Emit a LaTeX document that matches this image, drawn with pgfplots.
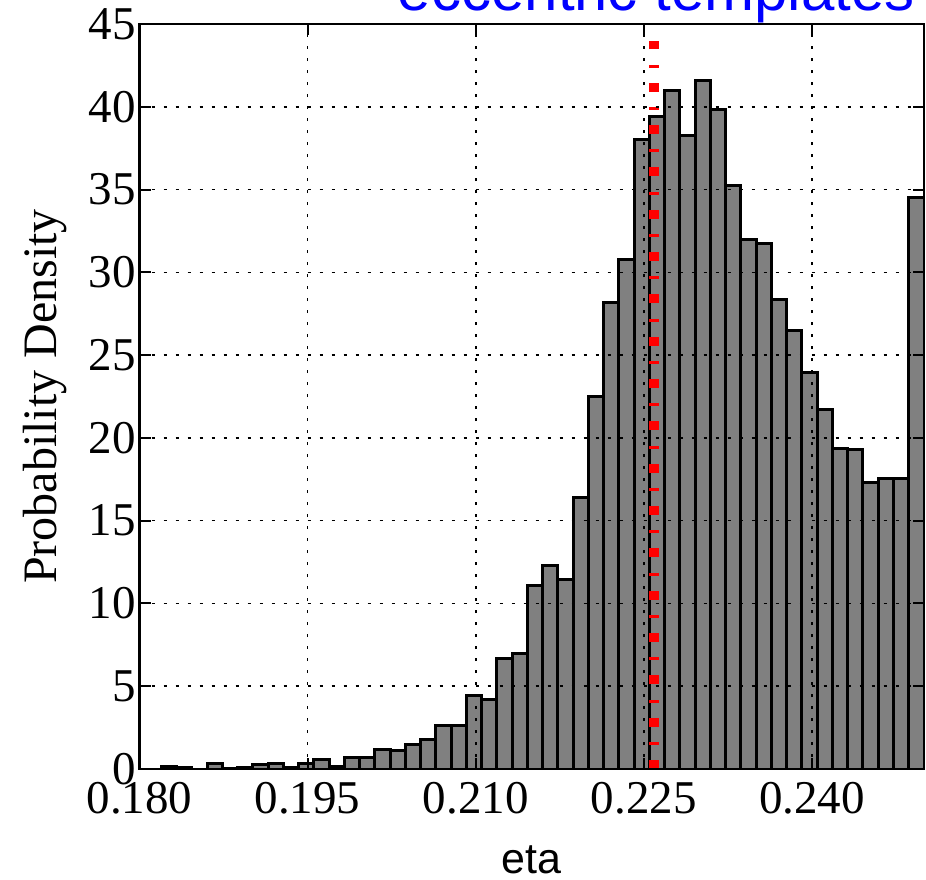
\documentclass[border=0pt]{standalone}
\usepackage{pgfplots}
\pgfplotsset{compat=1.18}
\usepackage{fontspec}
\setmainfont{Liberation Serif}
\newfontfamily\sansfont{Liberation Sans}
\definecolor{bargray}{gray}{0.5}
\begin{document}
\begin{tikzpicture}
\begin{axis}[
  at={(139.5pt,-769pt)}, anchor=south west,
  scale only axis, width=784.5pt, height=745pt,
  xmin=0.18, xmax=0.25, ymin=0, ymax=45,
  axis on top,
  axis line style={line width=2.8pt},
  xtick={0.18,0.195,0.21,0.225,0.24},
  xticklabels={0.180,0.195,0.210,0.225,0.240},
  scaled x ticks=false,
  ytick={0,5,10,15,20,25,30,35,40,45},
  tick align=inside,
  major tick length=11pt,
  every tick/.style={black, line width=2pt},
  grid=major,
  major grid style={black, line width=1.6pt, dash pattern=on 3pt off 9pt},
  tick label style={font=\fontsize{47}{47}\selectfont},
  xticklabel style={yshift=-10pt},
  /pgf/number format/assume math mode=true,
  xlabel={eta},
  every axis x label/.style={at={(axis description cs:0.5,-0.1396)}, anchor=base, font=\sansfont\fontsize{43}{43}\selectfont},
  ylabel={Probability Density},
  every axis y label/.style={at={(axis description cs:-0.1064,0.5)}, anchor=base, rotate=90, font=\fontsize{48}{48}\selectfont},
]
\addplot[ybar interval, fill=bargray, draw=black, line width=3pt] coordinates {
(0.181940,0.18) (0.183301,0.10) (0.184662,0.00) (0.186024,0.36) (0.187385,0.04)
(0.188746,0.10) (0.190107,0.25) (0.191468,0.33) (0.192830,0.08) (0.194191,0.33)
(0.195552,0.59) (0.196913,0.15) (0.198274,0.71) (0.199636,0.71) (0.200997,1.18)
(0.202358,1.10) (0.203719,1.46) (0.205080,1.80) (0.206442,2.61) (0.207803,2.61)
(0.209164,4.42) (0.210525,4.22) (0.211886,6.65) (0.213248,6.97) (0.214609,11.11)
(0.215970,12.29) (0.217331,11.46) (0.218692,16.40) (0.220054,22.48) (0.221415,28.18)
(0.222776,30.77) (0.224137,38.01) (0.225498,39.41) (0.226860,41.01) (0.228221,38.26)
(0.229582,41.57) (0.230943,39.81) (0.232304,35.24) (0.233666,32.00) (0.235027,31.72)
(0.236388,28.34) (0.237749,26.47) (0.239110,23.95) (0.240472,21.73) (0.241833,19.38)
(0.243194,19.32) (0.244555,17.33) (0.245916,17.53) (0.247278,17.53) (0.248639,34.51)
(0.250000,0)
};
\addplot[red, line width=10pt, dash pattern=on 9pt off 15.17pt on 3pt off 15.16pt] coordinates {(0.2259,0) (0.2259,44)};
\end{axis}
\node[anchor=base east, font=\sansfont\fontsize{60}{60}\selectfont, text=blue, inner sep=0pt] at (915pt,-11pt) {eccentric templates};
\pgfresetboundingbox
\path[use as bounding box] (0pt,0pt) rectangle (926pt,-880pt);
\end{tikzpicture}
\end{document}
